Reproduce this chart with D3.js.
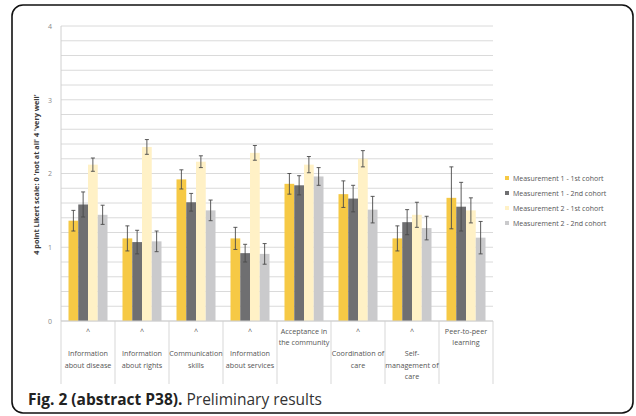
<!DOCTYPE html>
<html>
<head>
<meta charset="utf-8">
<script src="https://cdn.jsdelivr.net/npm/d3@7"></script>
<style>
  html, body { margin: 0; padding: 0; background: #fff; }
  svg { display: block; }
</style>
</head>
<body>
<svg id="chart" width="636" height="416"></svg>
<script>
// Category axis labels (each entry is a list of lines)
const categories = [
  "Information about disease",
  "Information about rights",
  "Communication skills",
  "Information about services",
  "Acceptance in the community",
  "Coordination of care",
  "Self-management of care",
  "Peer-to-peer learning"
];
const categoryLines = [
  ["^", "", "Information", "about disease"],
  ["^", "", "Information", "about rights"],
  ["^", "", "Communication", "skills"],
  ["^", "", "Information", "about services"],
  ["Acceptance in", "the community"],
  ["^", "", "Coordination of", "care"],
  ["^", "", "Self-", "management of", "care"],
  ["Peer-to-peer", "learning"]
];

const seriesNames = [
  "Measurement 1 - 1st cohort",
  "Measurement 1 - 2nd cohort",
  "Measurement 2 - 1st cohort",
  "Measurement 2 - 2nd cohort"
];

// Mean scores per series, one value per category
const m1c1 = [1.36, 1.12, 1.92, 1.12, 1.86, 1.72, 1.12, 1.67];
const m1c2 = [1.58, 1.07, 1.61, 0.92, 1.84, 1.66, 1.34, 1.55];
const m2c1 = [2.12, 2.36, 2.16, 2.28, 2.12, 2.20, 1.44, 1.50];
const m2c2 = [1.44, 1.08, 1.50, 0.91, 1.96, 1.51, 1.26, 1.13];

// Error margins (±) per series
const e1c1 = [0.14, 0.17, 0.13, 0.15, 0.14, 0.18, 0.17, 0.42];
const e1c2 = [0.17, 0.16, 0.12, 0.12, 0.13, 0.18, 0.17, 0.33];
const e2c1 = [0.09, 0.10, 0.08, 0.10, 0.11, 0.11, 0.17, 0.17];
const e2c2 = [0.13, 0.14, 0.14, 0.14, 0.12, 0.18, 0.16, 0.22];

const yTicks = [0, 1, 2, 3, 4];

const colors = ["#F6C945", "#6F6F71", "#FFF1C6", "#CACACC"];
const values = [m1c1, m1c2, m2c1, m2c2];
const errors = [e1c1, e1c2, e2c1, e2c2];

const svg = d3.select("#chart");

// Rounded outer frame
svg.append("rect")
  .attr("x", 12).attr("y", 5)
  .attr("width", 621).attr("height", 408)
  .attr("rx", 11).attr("ry", 11)
  .attr("fill", "#fff")
  .attr("stroke", "#111").attr("stroke-width", 1.6);

const plot = { left: 61, right: 493, top: 26, bottom: 321 };

const x = d3.scaleBand()
  .domain(categories)
  .range([plot.left, plot.right])
  .paddingInner(0).paddingOuter(0);

const xs = d3.scaleBand()
  .domain(d3.range(seriesNames.length))
  .range([7.5, x.bandwidth() - 7.5]);

const y = d3.scaleLinear().domain([0, 4]).range([plot.bottom, plot.top]);

// Gridlines every 0.2
const grid = d3.range(0, 4.0001, 0.2);
svg.append("g").selectAll("line")
  .data(grid)
  .join("line")
  .attr("x1", plot.left).attr("x2", plot.right)
  .attr("y1", d => y(d)).attr("y2", d => y(d))
  .attr("stroke", "#D6D6D6").attr("stroke-width", 0.9);

// Left axis line
svg.append("line")
  .attr("x1", plot.left).attr("x2", plot.left)
  .attr("y1", plot.top).attr("y2", plot.bottom)
  .attr("stroke", "#D0D0D0");

// Y axis tick labels
const yAxis = d3.axisLeft(y).tickValues(yTicks).tickSize(0).tickPadding(9).tickFormat(d3.format("d"));
const yg = svg.append("g").attr("transform", `translate(${plot.left},0)`).call(yAxis);
yg.select(".domain").remove();
yg.selectAll("text")
  .attr("font-family", "Open Sans, sans-serif")
  .attr("font-size", 7)
  .attr("fill", "#8a8a8a");

// Y axis title
svg.append("text")
  .attr("transform", `translate(39,${(plot.top + plot.bottom) / 2 + 1}) rotate(-90)`)
  .attr("text-anchor", "middle")
  .attr("font-family", "Open Sans, sans-serif")
  .attr("font-weight", "bold")
  .attr("font-size", 7.3)
  .attr("fill", "#3a3a3a")
  .text("4 point Likert scale: 0 'not at all' 4 'very well'");

// Bars
const groups = svg.append("g").selectAll("g")
  .data(categories)
  .join("g")
  .attr("transform", d => `translate(${x(d)},0)`);

groups.each(function (cat, ci) {
  const g = d3.select(this);
  values.forEach((vals, si) => {
    const v = vals[ci];
    const e = errors[si][ci];
    const bx = xs(si);
    const bw = xs.bandwidth();
    g.append("rect")
      .attr("x", bx).attr("y", y(v))
      .attr("width", bw).attr("height", y(0) - y(v))
      .attr("fill", colors[si]);
    const cx = bx + bw / 2;
    const eb = g.append("g").attr("stroke", "#4a4a4a").attr("stroke-width", 0.9);
    eb.append("line").attr("x1", cx).attr("x2", cx).attr("y1", y(v + e)).attr("y2", y(v - e));
    eb.append("line").attr("x1", cx - 2).attr("x2", cx + 2).attr("y1", y(v + e)).attr("y2", y(v + e));
    eb.append("line").attr("x1", cx - 2).attr("x2", cx + 2).attr("y1", y(v - e)).attr("y2", y(v - e));
  });
});

// Category label table: dividers
const bounds = categories.map(c => x(c)).concat([plot.right]);
svg.append("g").selectAll("line")
  .data(bounds)
  .join("line")
  .attr("x1", d => d).attr("x2", d => d)
  .attr("y1", plot.bottom).attr("y2", 384)
  .attr("stroke", "#D2D2D2").attr("stroke-width", 0.9);
svg.append("line")
  .attr("x1", plot.left).attr("x2", plot.right)
  .attr("y1", plot.bottom).attr("y2", plot.bottom)
  .attr("stroke", "#CFCFCF");

// Category labels
categories.forEach((c, ci) => {
  const t = svg.append("text")
    .attr("text-anchor", "middle")
    .attr("font-family", "Open Sans, sans-serif")
    .attr("font-size", 7.2)
    .attr("fill", "#555");
  categoryLines[ci].forEach((line, li) => {
    t.append("tspan")
      .attr("x", x(c) + x.bandwidth() / 2)
      .attr("y", 334 + li * 11.2)
      .text(line === "" ? "\u00a0" : line);
  });
});

// Legend
const legend = svg.append("g").attr("transform", "translate(507,179)");
seriesNames.forEach((name, si) => {
  const row = legend.append("g").attr("transform", `translate(0,${si * 15})`);
  row.append("rect")
    .attr("x", -2).attr("y", -3)
    .attr("width", 4).attr("height", 4)
    .attr("fill", colors[si]);
  row.append("text")
    .attr("x", 6).attr("y", 0)
    .attr("dy", "0.32em")
    .attr("font-family", "Open Sans, sans-serif")
    .attr("font-size", 7)
    .attr("fill", "#555")
    .text(name);
});

// Caption
const cap = svg.append("text")
  .attr("x", 28).attr("y", 405)
  .attr("font-family", "Open Sans, sans-serif")
  .attr("font-size", 15.5)
  .attr("fill", "#222");
cap.append("tspan").attr("font-weight", "bold").text("Fig. 2 (abstract P38).");
cap.append("tspan").attr("fill", "#333").text(" Preliminary results");
</script>
</body>
</html>
